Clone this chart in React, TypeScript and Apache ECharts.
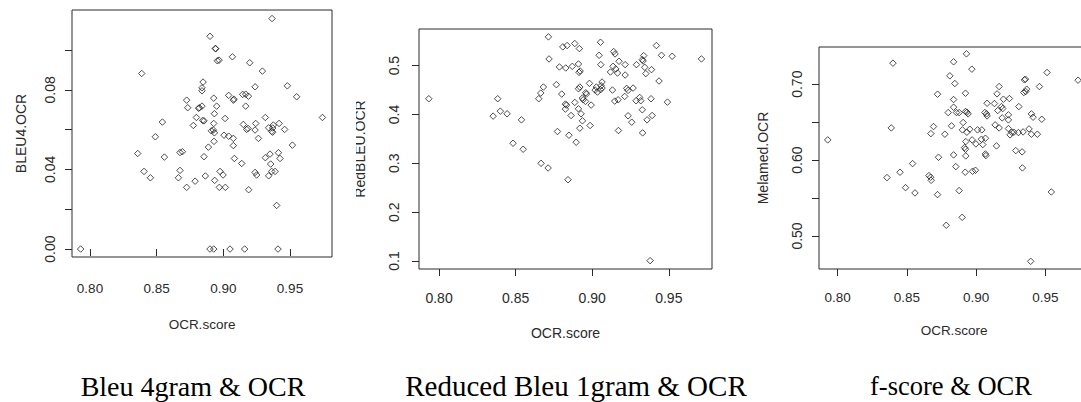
import React, { useEffect, useRef } from "react";
import * as echarts from "echarts";

// x = OCR.score, y = metric
const bleu4: [number, number][] = [
  [0.793, 0], [0.9365, 0.1158], [0.89, 0.1069], [0.894, 0.1008], [0.8943, 0.1006],
  [0.8968, 0.0949], [0.8955, 0.0946], [0.9068, 0.0966], [0.9198, 0.0936], [0.9293, 0.0894],
  [0.8388, 0.0882], [0.8848, 0.0839], [0.884, 0.081], [0.884, 0.0795], [0.9238, 0.0815],
  [0.948, 0.082], [0.955, 0.0765], [0.904, 0.0772], [0.8928, 0.0758], [0.908, 0.0753],
  [0.9075, 0.0748], [0.9145, 0.0777], [0.9168, 0.0778], [0.9188, 0.0768], [0.8725, 0.0748],
  [0.8733, 0.071], [0.882, 0.071], [0.8815, 0.0707], [0.884, 0.0718], [0.895, 0.0718],
  [0.9168, 0.0718], [0.8933, 0.068], [0.8798, 0.0661], [0.8845, 0.0646], [0.8855, 0.0644],
  [0.9013, 0.0656], [0.9315, 0.0661], [0.9743, 0.0661], [0.8543, 0.0638], [0.8775, 0.0621],
  [0.8928, 0.0631], [0.915, 0.0626], [0.9243, 0.0631], [0.9418, 0.0631], [0.934, 0.0609],
  [0.937, 0.0608], [0.9375, 0.0623], [0.9175, 0.0601], [0.9185, 0.0606], [0.9238, 0.0598],
  [0.946, 0.0601], [0.891, 0.0594], [0.8925, 0.0598], [0.8933, 0.0584], [0.9363, 0.0591],
  [0.937, 0.0587], [0.849, 0.0564], [0.9005, 0.0572], [0.904, 0.0567], [0.9075, 0.0556],
  [0.9263, 0.0556], [0.893, 0.0541], [0.9075, 0.052], [0.8888, 0.0512], [0.9518, 0.0522],
  [0.8675, 0.0485], [0.8693, 0.0489], [0.8358, 0.048], [0.9413, 0.0484], [0.935, 0.0477],
  [0.8558, 0.0462], [0.8855, 0.0464], [0.9083, 0.0455], [0.9315, 0.0459], [0.9425, 0.0455],
  [0.9138, 0.043], [0.9355, 0.0427], [0.8405, 0.039], [0.8675, 0.0395], [0.8975, 0.039],
  [0.9238, 0.0385], [0.925, 0.0372], [0.9363, 0.039], [0.9388, 0.039], [0.8453, 0.0358],
  [0.8663, 0.0358], [0.8865, 0.0367], [0.8998, 0.0372], [0.934, 0.0368], [0.8788, 0.0341],
  [0.8935, 0.0345], [0.8725, 0.031], [0.897, 0.031], [0.9015, 0.031], [0.919, 0.0298],
  [0.94, 0.0219], [0.89, 0], [0.8928, 0], [0.905, 0], [0.916, 0], [0.941, 0],
];

const redBleu: [number, number][] = [
  [0.7933, 0.4322], [0.8714, 0.5589], [0.8718, 0.5137], [0.8808, 0.5384], [0.8836, 0.5411],
  [0.8886, 0.5452], [0.8916, 0.5349], [0.9054, 0.5479], [0.9045, 0.5212], [0.914, 0.5288],
  [0.9149, 0.524], [0.9419, 0.5411], [0.9452, 0.5212], [0.9522, 0.5192], [0.9713, 0.5137],
  [0.9336, 0.5205], [0.9327, 0.5123], [0.9332, 0.5096], [0.8786, 0.4973], [0.8827, 0.4952],
  [0.887, 0.4986], [0.891, 0.5034], [0.8921, 0.489], [0.8914, 0.4863], [0.9056, 0.502],
  [0.9119, 0.487], [0.9136, 0.4986], [0.9154, 0.4932], [0.9165, 0.4849], [0.9175, 0.5089],
  [0.9215, 0.502], [0.9215, 0.4808], [0.9289, 0.502], [0.9343, 0.4966], [0.935, 0.4836],
  [0.9387, 0.4918], [0.8766, 0.461], [0.8681, 0.4562], [0.8664, 0.4438], [0.8651, 0.4322],
  [0.8383, 0.4322], [0.84, 0.4068], [0.8353, 0.3966], [0.8444, 0.4014], [0.8538, 0.389],
  [0.8801, 0.4418], [0.8825, 0.4212], [0.8832, 0.4192], [0.8825, 0.411], [0.8862, 0.3979],
  [0.8886, 0.4247], [0.891, 0.4527], [0.8919, 0.4562], [0.891, 0.4116], [0.8927, 0.4014],
  [0.8936, 0.4336], [0.8941, 0.4301], [0.8958, 0.4445], [0.8962, 0.4418], [0.8956, 0.4267],
  [0.8982, 0.4637], [0.8993, 0.4192], [0.8936, 0.387], [0.8919, 0.3719], [0.8986, 0.3774],
  [0.9019, 0.45], [0.9027, 0.4562], [0.9034, 0.4459], [0.9058, 0.4589], [0.9064, 0.4664],
  [0.9064, 0.4541], [0.9054, 0.4507], [0.9132, 0.45], [0.9147, 0.4274], [0.9169, 0.4301],
  [0.9212, 0.437], [0.9225, 0.4534], [0.9234, 0.4493], [0.9267, 0.4541], [0.9286, 0.4281],
  [0.931, 0.4349], [0.9317, 0.4281], [0.9384, 0.4322], [0.9436, 0.4685], [0.9491, 0.4253],
  [0.9327, 0.4096], [0.9358, 0.389], [0.9391, 0.3979], [0.9234, 0.3973], [0.9258, 0.3842],
  [0.9329, 0.3623], [0.9171, 0.3671], [0.8773, 0.3651], [0.8848, 0.3575], [0.8895, 0.3432],
  [0.8483, 0.3411], [0.8549, 0.3288], [0.8666, 0.3], [0.8712, 0.2904], [0.8842, 0.2664],
  [0.9378, 0.1007],
];

const melamed: [number, number][] = [
  [0.7928, 0.6266], [0.8399, 0.7277], [0.8387, 0.6424], [0.8356, 0.5769], [0.845, 0.584],
  [0.8541, 0.5954], [0.849, 0.5637], [0.8558, 0.5567], [0.8659, 0.5796], [0.8671, 0.5774],
  [0.8675, 0.5734], [0.8721, 0.5545], [0.8728, 0.6037], [0.8721, 0.6868], [0.8673, 0.6349],
  [0.8692, 0.6442], [0.8774, 0.6341], [0.8784, 0.5141], [0.881, 0.711], [0.8837, 0.7295],
  [0.8846, 0.7009], [0.8798, 0.6626], [0.8822, 0.6451], [0.8837, 0.6798], [0.8837, 0.6697],
  [0.8858, 0.6626], [0.8877, 0.6626], [0.8837, 0.6068], [0.8853, 0.5914], [0.8877, 0.5598],
  [0.8899, 0.5246], [0.893, 0.74], [0.8923, 0.6881], [0.8969, 0.7198], [0.8906, 0.6495],
  [0.8901, 0.6398], [0.8923, 0.664], [0.8933, 0.6631], [0.8942, 0.6609], [0.8925, 0.6244],
  [0.8916, 0.6165], [0.8923, 0.6143], [0.8933, 0.6367], [0.8954, 0.6407], [0.8925, 0.6055],
  [0.8921, 0.584], [0.8971, 0.6266], [0.8974, 0.5853], [0.8995, 0.5866], [0.8998, 0.6213],
  [0.901, 0.6398], [0.9041, 0.6398], [0.9038, 0.6275], [0.9067, 0.6288], [0.9048, 0.6204],
  [0.9067, 0.6081], [0.907, 0.6059], [0.9063, 0.6626], [0.9075, 0.6609], [0.9079, 0.6582],
  [0.9079, 0.6749], [0.9132, 0.6745], [0.9151, 0.6873], [0.9166, 0.6969], [0.9137, 0.6464],
  [0.9166, 0.6424], [0.9147, 0.6187], [0.9156, 0.6653], [0.9183, 0.6705], [0.9192, 0.6679],
  [0.9197, 0.6802], [0.9188, 0.6556], [0.9233, 0.6596], [0.9233, 0.653], [0.924, 0.6811],
  [0.9233, 0.6415], [0.9245, 0.6332], [0.9257, 0.6367], [0.9272, 0.6367], [0.9305, 0.6363],
  [0.9339, 0.6371], [0.9308, 0.6705], [0.9286, 0.6125], [0.9332, 0.6108], [0.9334, 0.5897],
  [0.9349, 0.7057], [0.9356, 0.7066], [0.9344, 0.689], [0.9358, 0.6903], [0.9365, 0.6934],
  [0.9382, 0.6411], [0.9399, 0.6609], [0.9411, 0.6565], [0.9399, 0.6341], [0.9442, 0.6341],
  [0.9457, 0.6969], [0.9474, 0.6538], [0.9512, 0.7154], [0.9543, 0.558], [0.9736, 0.7053],
  [0.9394, 0.4666],
];

const xTicks = [0.8, 0.85, 0.9, 0.95];
const bleuTicks = [0, 0.02, 0.04, 0.06, 0.08, 0.1];
const bleuLabels = [0, 0.04, 0.08];
const redTicks = [0.1, 0.2, 0.3, 0.4, 0.5];
const melTicks = [0.5, 0.55, 0.6, 0.65, 0.7];
const melLabels = [0.5, 0.6, 0.7];

const xName = "OCR.score";
const yNames = ["BLEU4.OCR", "RedBLEU.OCR", "Melamed.OCR"];
const captions = ["Bleu 4gram & OCR", "Reduced Bleu 1gram & OCR", "f-score & OCR"];

const FONT = "Liberation Sans, Arial, sans-serif";
const INK = "#2a2a2a";

function xAxisOf(gridIndex: number, min: number, max: number, margin: number, gap: number, fs: number) {
  return {
    type: "value",
    gridIndex,
    min,
    max,
    axisLine: { show: false },
    splitLine: { show: false },
    axisTick: { show: true, length: 7, customValues: xTicks, lineStyle: { color: INK, width: 1 } },
    axisLabel: {
      customValues: xTicks,
      formatter: (v: number) => v.toFixed(2),
      margin,
      color: INK,
      fontFamily: FONT,
      fontSize: fs,
    },
    name: xName,
    nameLocation: "middle",
    nameGap: gap,
    nameMoveOverlap: false,
    nameTextStyle: { color: INK, fontFamily: FONT, fontSize: fs },
  };
}

function yAxisOf(
  gridIndex: number,
  min: number,
  max: number,
  ticks: number[],
  labels: number[],
  digits: number,
  margin: number,
  gap: number,
  fs: number
) {
  return {
    type: "value",
    gridIndex,
    min,
    max,
    axisLine: { show: false },
    splitLine: { show: false },
    axisTick: { show: true, length: 7, customValues: ticks, lineStyle: { color: INK, width: 1 } },
    axisLabel: {
      customValues: labels,
      formatter: (v: number) => v.toFixed(digits),
      rotate: 90,
      margin,
      color: INK,
      fontFamily: FONT,
      fontSize: fs,
    },
    name: yNames[gridIndex],
    nameLocation: "middle",
    nameGap: gap,
    nameMoveOverlap: false,
    nameTextStyle: { color: INK, fontFamily: FONT, fontSize: fs },
  };
}

function scatterOf(i: number, data: [number, number][]) {
  return {
    type: "scatter",
    xAxisIndex: i,
    yAxisIndex: i,
    data,
    symbol: "diamond",
    symbolSize: 6.5,
    itemStyle: { color: "rgba(255,255,255,0)", borderColor: "#222", borderWidth: 1 },
    emphasis: { disabled: true },
  };
}

const captionX = [193, 576, 951];
const captionSize = [28, 29, 26.5];

export default function App() {
  const ref = useRef<HTMLDivElement>(null);

  useEffect(() => {
    if (!ref.current) return;
    const chart = echarts.init(ref.current, undefined, { renderer: "svg" });
    const gridBase = { show: true, borderColor: INK, borderWidth: 1, backgroundColor: "transparent", containLabel: false, outerBoundsMode: "none" };
    chart.setOption({
      animation: false,
      backgroundColor: "#ffffff",
      grid: [
        { ...gridBase, left: 72, top: 10, width: 260, height: 247 },
        { ...gridBase, left: 419, top: 29, width: 293, height: 240 },
        { ...gridBase, left: 819, top: 47, width: 270, height: 222 },
      ],
      xAxis: [
        xAxisOf(0, 0.7865, 0.9815, 24, 60, 13.5),
        xAxisOf(1, 0.7869, 0.9782, 22, 57, 14),
        xAxisOf(2, 0.7865, 0.9815, 21, 54, 13.5),
      ],
      yAxis: [
        yAxisOf(0, -0.004, 0.1201, bleuTicks, bleuLabels, 2, 15, 44, 14),
        yAxisOf(1, 0.0836, 0.575, redTicks, redTicks, 1, 18, 52, 14),
        yAxisOf(2, 0.4565, 0.749, melTicks, melLabels, 2, 15, 49, 14),
      ],
      series: [scatterOf(0, bleu4), scatterOf(1, redBleu), scatterOf(2, melamed)],
      graphic: [
        { type: "rect", z: 100, shape: { x: 334, y: 90, width: 22, height: 120 }, style: { fill: "#ffffff" } },
        ...captions.map((t, i) => ({
          type: "text",
          z: 100,
          x: captionX[i],
          y: 386,
          style: {
            text: t,
            fontFamily: "Liberation Serif, Times New Roman, serif",
            fontSize: captionSize[i],
            fill: "#000",
            align: "center",
            verticalAlign: "middle",
          },
        })),
      ],
    });
    return () => chart.dispose();
  }, []);

  return (
    <div
      ref={ref}
      style={{ position: "absolute", left: 0, top: 0, width: 1081, height: 402, background: "#fff" }}
    />
  );
}
